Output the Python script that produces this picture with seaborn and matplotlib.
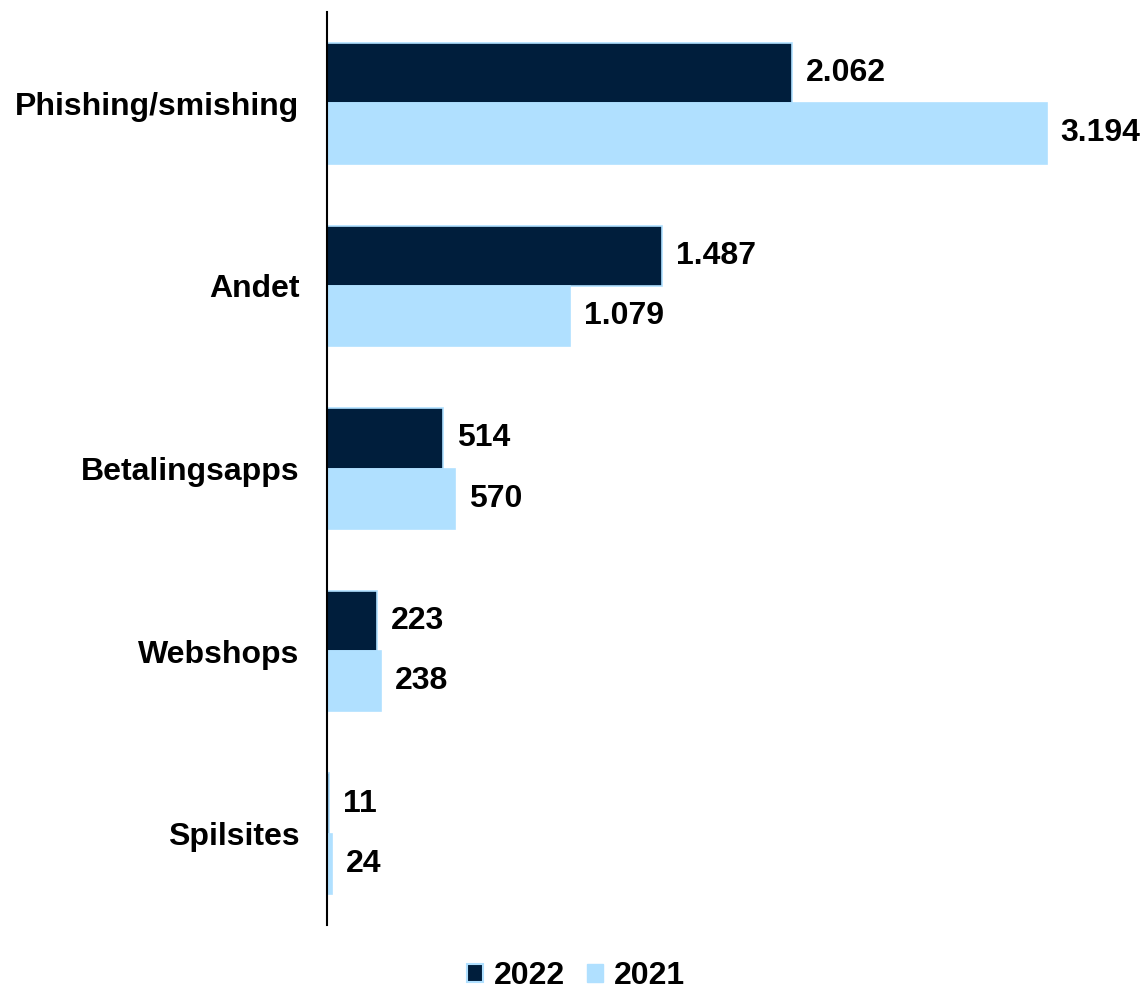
import matplotlib
matplotlib.use("Agg")
import matplotlib.pyplot as plt
from matplotlib.patches import Patch
import seaborn as sns
import pandas as pd

categories = ["Phishing/smishing", "Andet", "Betalingsapps", "Webshops", "Spilsites"]
values_2022 = [2062, 1487, 514, 223, 11]
values_2021 = [3194, 1079, 570, 238, 24]
years = ["2022", "2021"]
colors = {"2022": "#001E3C", "2021": "#B0E0FF"}

df = pd.DataFrame({
    "kategori": categories * 2,
    "antal": values_2022 + values_2021,
    "aar": ["2022"] * len(categories) + ["2021"] * len(categories),
})

sns.set_theme(style="white")
plt.rcParams["font.family"] = ["Liberation Sans", "DejaVu Sans"]
plt.rcParams["font.weight"] = "bold"
plt.rcParams["text.color"] = "black"

fig = plt.figure(figsize=(11.42, 9.9), dpi=100)
ax = fig.add_axes([327 / 1142, 1 - 925 / 990, 1 - 327 / 1142, (925 - 12) / 990])

sns.barplot(data=df, y="kategori", x="antal", hue="aar", hue_order=years,
            order=categories, palette=colors, orient="h", width=0.66,
            saturation=1, edgecolor="#B0E0FF", linewidth=1.2, ax=ax, legend=False)

def fmt(v):
    return f"{v:,}".replace(",", ".")

for cont, vals in zip(ax.containers, [values_2022, values_2021]):
    ax.bar_label(cont, labels=[fmt(v) for v in vals], padding=10,
                 fontsize=23, fontweight="bold", color="black", clip_on=False)

ax.set_xlim(0, 3616)
ax.set_ylim(4.5, -0.5)
ax.set_xlabel("")
ax.set_ylabel("")
ax.set_xticks([])
ax.tick_params(axis="y", length=0, pad=20, labelsize=23, labelcolor="black")
for lbl in ax.get_yticklabels():
    lbl.set_fontweight("bold")
for side in ["top", "right", "bottom"]:
    ax.spines[side].set_visible(False)
ax.spines["left"].set_color("black")
ax.spines["left"].set_linewidth(1.5)

handles = [Patch(facecolor=colors["2022"], edgecolor="#B0E0FF", linewidth=1.5, label="2022"),
           Patch(facecolor=colors["2021"], edgecolor=colors["2021"], label="2021")]
fig.legend(handles=handles, loc="center", bbox_to_anchor=(576 / 1142, 1 - 976 / 990),
           ncol=2, frameon=False, handlelength=0.5, handleheight=0.5,
           handletextpad=0.35, columnspacing=0.7, labelcolor="black",
           prop={"size": 23, "weight": "bold"})

fig.savefig("out.png", dpi=100)
